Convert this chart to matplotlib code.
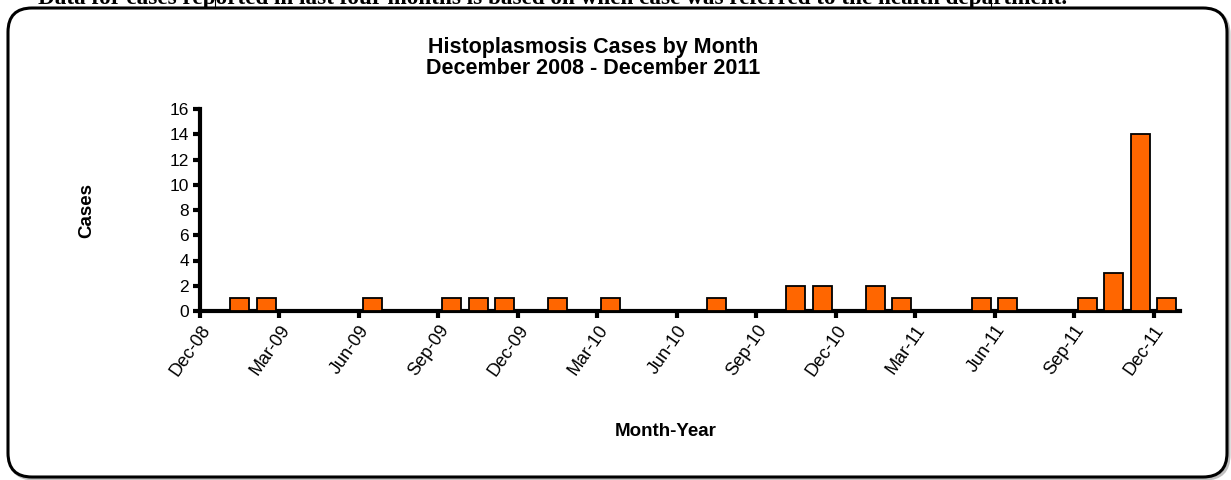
import numpy as np
import matplotlib
matplotlib.use("Agg")
import matplotlib.pyplot as plt
from matplotlib.patches import FancyBboxPatch
from matplotlib.transforms import offset_copy

plt.rcParams['font.family'] = ['Liberation Sans', 'DejaVu Sans']

# Data: monthly case counts, Dec-08 .. Dec-11
months = ['Dec-08', 'Jan-09', 'Feb-09', 'Mar-09', 'Apr-09', 'May-09', 'Jun-09', 'Jul-09',
          'Aug-09', 'Sep-09', 'Oct-09', 'Nov-09', 'Dec-09', 'Jan-10', 'Feb-10', 'Mar-10',
          'Apr-10', 'May-10', 'Jun-10', 'Jul-10', 'Aug-10', 'Sep-10', 'Oct-10', 'Nov-10',
          'Dec-10', 'Jan-11', 'Feb-11', 'Mar-11', 'Apr-11', 'May-11', 'Jun-11', 'Jul-11',
          'Aug-11', 'Sep-11', 'Oct-11', 'Nov-11', 'Dec-11']
cases = [0, 1, 1, 0, 0, 0, 1, 0,
         0, 1, 1, 1, 0, 1, 0, 1,
         0, 0, 0, 1, 0, 0, 2, 2,
         0, 2, 1, 0, 0, 1, 1, 0,
         0, 1, 3, 14, 1]
tick_labels = months[::3]
yticks = [0, 2, 4, 6, 8, 10, 12, 14, 16]

W, H = 1231, 480
fig = plt.figure(figsize=(W / 100, H / 100), dpi=100)

# background overlay in pixel coords for the border and clipped note
bg = fig.add_axes([0, 0, 1, 1])
bg.set_xlim(0, W)
bg.set_ylim(H, 0)
bg.axis('off')
bg.add_patch(FancyBboxPatch((10, 10), W - 10 - 2, H - 10 - 1,
                            boxstyle="round,pad=0,rounding_size=24",
                            fc='none', ec='#c0c0c0', lw=2.2))
bg.add_patch(FancyBboxPatch((8, 8), W - 8 - 4, H - 8 - 3,
                            boxstyle="round,pad=0,rounding_size=24",
                            fc='white', ec='black', lw=2.2))
bg.plot([215, 215], [0, 8], color='black', lw=0.8)
bg.plot([991, 991], [0, 8], color='black', lw=0.8)
bg.text(38, 4, "Data for cases reported in last four months is based on when case was referred to the health department.",
        family=['Liberation Serif'], fontweight='bold', fontsize=16.7, va='baseline', ha='left')

ax = fig.add_axes([200 / W, 1 - 311 / H, 980 / W, 202 / H])
x = np.arange(len(cases)) + 0.5
ax.bar(x, cases, width=0.72, color='#FF6600', edgecolor='black', linewidth=1.3, zorder=3)

ax.set_xlim(0, len(cases))
ax.set_ylim(0, 16)
ax.set_yticks(yticks)
ax.set_xticks(np.arange(0, len(cases), 3))
ax.set_xticklabels(tick_labels)
for lab in ax.get_xticklabels():
    lab.set_rotation(55)
    lab.set_ha('right')
    lab.set_va('top')
    lab.set_rotation_mode('anchor')
    lab.set_transform(offset_copy(lab.get_transform(), fig=fig, x=13, y=-2, units='dots'))

for s in ['top', 'right']:
    ax.spines[s].set_visible(False)
for s in ['left', 'bottom']:
    ax.spines[s].set_linewidth(3)
ax.tick_params(axis='y', direction='out', length=5, width=3, labelsize=12.5, pad=3)
ax.tick_params(axis='x', direction='out', length=5, width=3, labelsize=13, pad=3)
ax.patch.set_alpha(0)

ax.set_xlabel('Month-Year', fontsize=13.5, fontweight='bold', labelpad=0)
ax.xaxis.set_label_coords((666 - 200) / 980, (311 - 423) / 202)
ax.set_ylabel('Cases', fontsize=13.5, fontweight='bold')
ax.yaxis.set_label_coords((95 - 200) / 980, (311 - 210) / 202)

fig.text(593 / W, 1 - 47 / H, 'Histoplasmosis Cases by Month', ha='center', va='center',
         fontsize=15.5, fontweight='bold')
fig.text(593 / W, 1 - 69 / H, 'December 2008 - December 2011', ha='center', va='center',
         fontsize=15.5, fontweight='bold')

fig.savefig('out.png', dpi=100)
